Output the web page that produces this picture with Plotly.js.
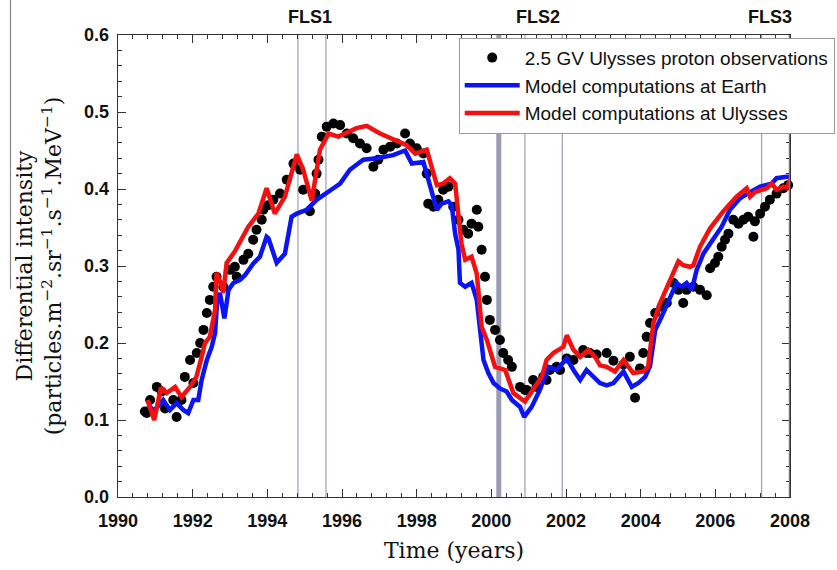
<!DOCTYPE html>
<html>
<head>
<meta charset="utf-8">
<script src="https://cdn.plot.ly/plotly-3.0.1.min.js"></script>
<style>html,body{margin:0;padding:0;background:#fff;}#chart{width:837px;height:570px;}</style>
</head>
<body>
<div id="chart"></div>
<script>
// Observations (2.5 GV Ulysses protons)
const obsYear = [1990.72,1990.77,1990.86,1991.04,1991.17,1991.26,1991.48,1991.57,1991.70,1991.79,1991.93,1992.02,1992.11,1992.20,1992.29,1992.38,1992.46,1992.55,1992.64,1992.82,1993.00,1993.13,1993.18,1993.36,1993.49,1993.62,1993.71,1993.85,1993.89,1994.02,1994.16,1994.34,1994.52,1994.70,1994.88,1994.96,1995.14,1995.28,1995.32,1995.37,1995.46,1995.59,1995.77,1995.95,1996.13,1996.30,1996.48,1996.66,1996.84,1996.97,1997.11,1997.29,1997.47,1997.69,1997.82,1998.00,1998.18,1998.27,1998.31,1998.45,1998.58,1998.71,1998.85,1998.98,1999.12,1999.25,1999.38,1999.47,1999.61,1999.65,1999.74,1999.83,1999.88,1999.96,2000.10,2000.23,2000.32,2000.45,2000.55,2000.77,2000.90,2000.95,2001.12,2001.21,2001.39,2001.48,2001.57,2001.75,2001.84,2002.02,2002.20,2002.46,2002.55,2002.64,2002.82,2003.09,2003.27,2003.54,2003.71,2003.85,2003.98,2004.07,2004.16,2004.25,2004.39,2004.56,2004.70,2004.88,2005.01,2005.14,2005.23,2005.41,2005.59,2005.77,2005.86,2005.99,2006.08,2006.17,2006.26,2006.35,2006.48,2006.62,2006.75,2006.88,2007.02,2007.06,2007.20,2007.33,2007.46,2007.64,2007.82,2007.95,2008.07];
const obsValue = [0.111,0.109,0.126,0.143,0.137,0.115,0.126,0.104,0.126,0.156,0.178,0.148,0.187,0.200,0.217,0.239,0.256,0.273,0.286,0.273,0.295,0.299,0.286,0.308,0.316,0.334,0.347,0.360,0.373,0.379,0.386,0.394,0.412,0.433,0.425,0.399,0.371,0.394,0.420,0.438,0.468,0.481,0.485,0.483,0.472,0.466,0.459,0.453,0.429,0.438,0.451,0.455,0.459,0.472,0.459,0.453,0.446,0.420,0.381,0.377,0.386,0.399,0.403,0.377,0.360,0.347,0.342,0.355,0.373,0.351,0.321,0.286,0.256,0.230,0.217,0.204,0.187,0.178,0.169,0.143,0.139,0.139,0.152,0.143,0.156,0.152,0.165,0.169,0.165,0.180,0.178,0.191,0.187,0.187,0.185,0.187,0.177,0.172,0.182,0.129,0.167,0.187,0.208,0.226,0.239,0.247,0.252,0.278,0.269,0.252,0.269,0.273,0.269,0.262,0.297,0.304,0.312,0.325,0.334,0.342,0.360,0.355,0.360,0.364,0.338,0.358,0.368,0.377,0.386,0.394,0.401,0.405,0.407];

// Model computations at Earth
const earthYear = [1990.80,1990.97,1991.21,1991.39,1991.57,1991.75,1991.88,1992.02,1992.15,1992.24,1992.38,1992.51,1992.60,1992.66,1992.73,1992.85,1992.96,1993.09,1993.27,1993.40,1993.62,1993.80,1993.98,1994.03,1994.25,1994.47,1994.65,1994.79,1995.05,1995.32,1995.77,1995.95,1996.21,1996.57,1996.93,1997.37,1997.69,1997.87,1998.18,1998.31,1998.45,1998.54,1998.67,1998.85,1998.94,1999.03,1999.12,1999.16,1999.30,1999.47,1999.61,1999.70,1999.79,1999.92,2000.06,2000.23,2000.41,2000.55,2000.77,2000.88,2001.08,2001.30,2001.53,2001.75,2002.02,2002.20,2002.38,2002.55,2002.73,2002.91,2003.09,2003.27,2003.54,2003.76,2003.94,2004.12,2004.25,2004.39,2004.56,2004.79,2004.96,2005.10,2005.23,2005.37,2005.50,2005.68,2005.95,2006.17,2006.39,2006.66,2006.93,2007.20,2007.51,2007.64,2007.91,2008.00];
const earthValue = [0.120,0.112,0.126,0.113,0.122,0.113,0.109,0.126,0.126,0.152,0.178,0.195,0.213,0.256,0.265,0.232,0.269,0.278,0.282,0.288,0.303,0.312,0.338,0.336,0.304,0.316,0.364,0.368,0.373,0.386,0.401,0.407,0.425,0.438,0.440,0.444,0.450,0.433,0.435,0.412,0.386,0.373,0.381,0.384,0.379,0.342,0.321,0.278,0.273,0.278,0.256,0.213,0.178,0.161,0.148,0.141,0.137,0.126,0.117,0.104,0.117,0.139,0.169,0.165,0.180,0.165,0.152,0.165,0.156,0.148,0.145,0.148,0.163,0.143,0.148,0.156,0.170,0.217,0.234,0.260,0.278,0.273,0.278,0.269,0.295,0.316,0.334,0.351,0.373,0.388,0.396,0.403,0.407,0.414,0.416,0.416];

// Model computations at Ulysses
const ulyYear = [1990.79,1990.97,1991.15,1991.30,1991.53,1991.70,1991.93,1992.10,1992.24,1992.33,1992.46,1992.60,1992.64,1992.75,1992.82,1992.91,1993.13,1993.31,1993.49,1993.76,1993.98,1994.20,1994.47,1994.79,1994.96,1995.19,1995.41,1995.64,1995.90,1996.39,1996.66,1997.02,1997.37,1997.73,1997.96,1998.27,1998.40,1998.54,1998.71,1998.89,1999.03,1999.12,1999.20,1999.30,1999.47,1999.61,1999.74,1999.88,2000.10,2000.37,2000.59,2000.90,2001.12,2001.35,2001.48,2001.66,2001.93,2002.02,2002.20,2002.38,2002.60,2002.78,2002.91,2003.09,2003.31,2003.54,2003.80,2004.07,2004.20,2004.34,2004.52,2004.79,2005.01,2005.14,2005.32,2005.41,2005.59,2005.86,2006.21,2006.57,2006.84,2006.93,2007.06,2007.38,2007.51,2007.64,2007.82,2007.91,2008.02];
const ulyValue = [0.126,0.100,0.142,0.135,0.143,0.130,0.143,0.156,0.182,0.200,0.208,0.243,0.291,0.278,0.265,0.304,0.319,0.334,0.351,0.368,0.401,0.368,0.390,0.445,0.425,0.385,0.451,0.472,0.468,0.479,0.482,0.472,0.464,0.457,0.446,0.451,0.429,0.405,0.407,0.414,0.407,0.364,0.329,0.308,0.312,0.290,0.221,0.204,0.169,0.165,0.135,0.124,0.139,0.156,0.178,0.187,0.195,0.210,0.191,0.182,0.191,0.182,0.171,0.169,0.163,0.178,0.161,0.163,0.169,0.226,0.252,0.282,0.306,0.301,0.299,0.301,0.325,0.349,0.371,0.390,0.401,0.390,0.396,0.401,0.407,0.399,0.403,0.401,0.414];

// Event markers
const eventYears = [1994.82, 1995.57, 2000.9, 2001.9, 2007.24];
const thickEventYear = 2000.2;
const flsLabels = ["FLS1", "FLS2", "FLS3"];
const flsLabelYears = [1995.14, 2001.25, 2007.47];

const xTicks = [1990,1992,1994,1996,1998,2000,2002,2004,2006,2008];
const yTicks = [0.0,0.1,0.2,0.3,0.4,0.5,0.6];

const traces = [
  {x: obsYear, y: obsValue, mode: 'markers', type: 'scatter', name: '2.5 GV Ulysses proton observations',
   marker: {color: '#000', size: 10, symbol: 'circle'}, cliponaxis: false},
  {x: earthYear, y: earthValue, mode: 'lines', type: 'scatter', name: 'Model computations at Earth',
   line: {color: '#0a14f5', width: 4.5}},
  {x: ulyYear, y: ulyValue, mode: 'lines', type: 'scatter', name: 'Model computations at Ulysses',
   line: {color: '#f51010', width: 4.5}}
];

const shapes = [];
eventYears.forEach(function(yr){
  shapes.push({type:'line', xref:'x', yref:'paper', x0:yr, x1:yr, y0:0, y1:1, layer:'below',
    line:{color:'#a3a3c2', width:1.3}});
});
shapes.push({type:'line', xref:'x', yref:'paper', x0:thickEventYear, x1:thickEventYear, y0:0, y1:1, layer:'below',
  line:{color:'#9a9ab2', width:5}});
shapes.push({type:'line', xref:'x', yref:'paper', x0:2008, x1:2008, y0:0, y1:1, layer:'above',
  line:{color:'#777', width:2.5}});
// legend shadow
shapes.push({type:'rect', xref:'paper', yref:'paper', x0:0.512, x1:1.0655, y0:0.786, y1:0.987, layer:'above',
  fillcolor:'#8a8a8a', line:{width:0}});
// left border artifact
shapes.push({type:'line', xref:'paper', yref:'paper', x0:-0.16, x1:-0.16, y0:0.45, y1:1.076,
  line:{color:'#888', width:1.2}});

const annotations = flsLabels.map(function(t, i){
  return {text: t, x: flsLabelYears[i], xref:'x', y: 1.0, yref:'paper', yanchor:'bottom', yshift: 6,
    showarrow:false, font:{family:'Liberation Sans, Arial, sans-serif', size:18, color:'#111', weight:'bold'}};
});

const tickFont = {family:'Liberation Sans, Arial, sans-serif', size:18, color:'#111', weight:'bold'};
const xTitleFont = {family:'DejaVu Serif, serif', size:22, color:'#111'};
const yTitleFont = {family:'DejaVu Serif, serif', size:22, color:'#111'};

const layout = {
  width: 837, height: 570,
  margin: {l:118, r:47, t:35, b:73, autoexpand:false},
  paper_bgcolor:'#fff', plot_bgcolor:'#fff',
  showlegend: true,
  legend: {x:0.507, y:0.994, xanchor:'left', yanchor:'top', bgcolor:'#fff', bordercolor:'#999', borderwidth:1,
    font:{family:'Liberation Sans, Arial, sans-serif', size:19, color:'#111'}, itemwidth:55, tracegroupgap:0},
  xaxis: {range:[1990,2008], tickvals:xTicks, ticktext:xTicks.map(String), ticks:'inside', ticklen:8, tickwidth:1, tickcolor:'#333',
    showline:true, linecolor:'#333', linewidth:1.3, mirror:'allticks', showgrid:false, zeroline:false,
    minor:{ticks:'inside', dtick:0.4, tick0:1990, ticklen:4, tickcolor:'#333', tickwidth:1, showgrid:false},
    tickfont: tickFont, ticklabelstandoff: 7,
    title:{text:'Time (years)', font: xTitleFont, standoff: 12}},
  yaxis: {range:[0,0.6], tickvals:yTicks, ticktext:yTicks.map(function(v){return v.toFixed(1);}), ticks:'inside', ticklen:8, tickwidth:1, tickcolor:'#333',
    showline:true, linecolor:'#333', linewidth:1.3, mirror:'allticks', showgrid:false, zeroline:false,
    minor:{ticks:'inside', dtick:0.02, tick0:0, ticklen:4, tickcolor:'#333', tickwidth:1, showgrid:false},
    tickfont: tickFont, ticklabelstandoff: 4,
    title:{text:'Differential intensity<br>(particles.m<sup>−2</sup>.sr<sup>−1</sup>.s<sup>−1</sup>.MeV<sup>−1</sup>)', font: yTitleFont, standoff: 16}},
  shapes: shapes,
  annotations: annotations
};

Plotly.newPlot('chart', traces, layout, {displayModeBar:false, staticPlot:true});
</script>
</body>
</html>
